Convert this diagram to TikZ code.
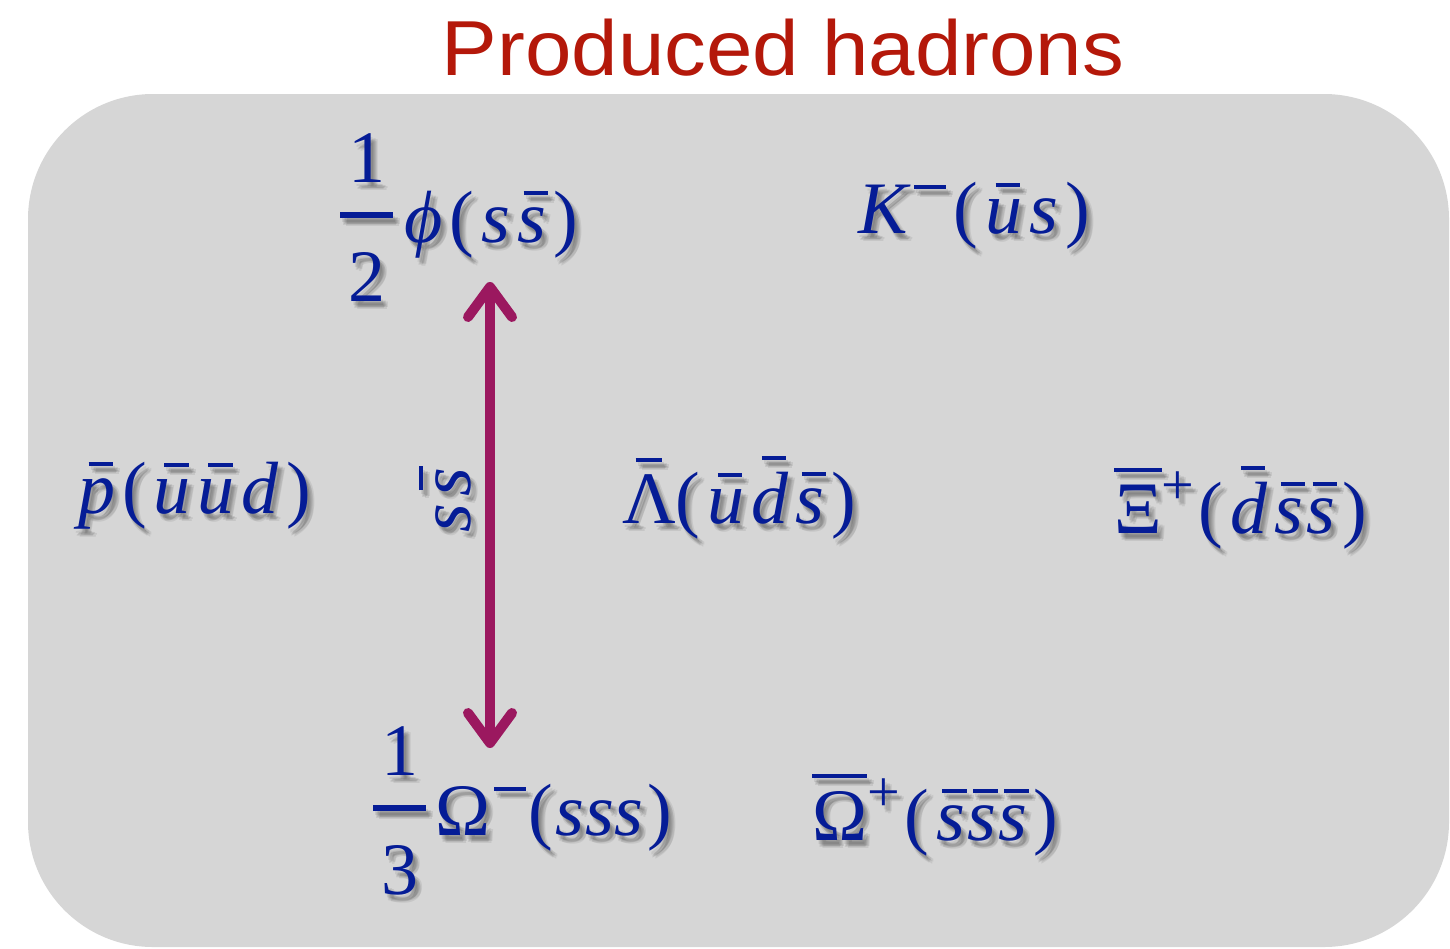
\documentclass[tikz,border=0pt]{standalone}
\usepackage{fontspec}
\setmainfont{Liberation Serif}
\setsansfont{Liberation Sans}
\usetikzlibrary{arrows.meta}
\definecolor{hblue}{RGB}{5,28,150}
\definecolor{hred}{RGB}{180,24,10}
\definecolor{hmag}{RGB}{155,24,95}
\definecolor{hgray}{RGB}{214,214,214}
\newcommand{\ovl}[3][0pt]{\setbox0\hbox{#3}\rlap{\hbox to\wd0{\hss\kern#1\rule[\dimexpr\ht0+0.16em\relax]{#2}{0.055em}\hss}}\box0}
\newcommand{\iq}[2][0.095em]{\textit{#2}\kern#1}
\newcommand{\bq}[2][0.095em]{\ovl[0.11em]{0.33em}{\itshape #2}\kern#1}
\newcommand{\fob}[1]{\setbox0\hbox{#1}\rlap{\rule[\dimexpr\ht0+0.17em\relax]{\wd0}{0.055em}}\box0}
\newcommand{\sps}[1]{\raisebox{0.38em}{\fontsize{58}{60}\selectfont #1}\kern0.06em}
\newcommand{\smin}[1][0.1em]{\kern0.05em\rule[0.6em]{0.43em}{0.055em}\kern#1}
\newcommand{\lp}[1][0.095em]{(\kern#1}
\newcommand{\fr}[2]{\rlap{\raisebox{0.8em}{\makebox[0.72em]{#1}}}\rlap{\rule[0.33em]{0.72em}{0.07em}}\raisebox{-0.81em}{\makebox[0.72em]{#2}}\kern0.15em}
\tikzset{
  txt/.style={inner sep=0pt,text=hblue,anchor=base west,font=\fontsize{74}{80}\selectfont},
  shd/.style={txt,text=black,opacity=.07},
  panel/.style={fill=hgray,draw=none,rounded corners=125pt},
  title/.style={inner sep=0pt,text=hred,anchor=base,font=\sffamily\fontsize{78}{80}\selectfont},
  link/.style={draw=hmag,line width=10pt,line cap=round,
    {Straight Barb[length=30pt,width=44pt,line cap=round,line join=round]}-{Straight Barb[length=30pt,width=44pt,line cap=round,line join=round]}}
}
\newcommand{\hadr}[4][]{%
  \foreach \dx/\dy [count=\i] in {2/4,4/6,6/8,3/7,5/5,7/6}{%
    \node[shd,#1] (#2-s\i) at ([shift={(\dx pt,-\dy pt)}]#3) {#4};}%
  \node[txt,#1] (#2) at (#3) {#4};}
\begin{document}
\begin{tikzpicture}[x=1pt,y=-1pt]
\useasboundingbox (0,0) rectangle (1450,948);
\path[panel] (28,94) rectangle (1449,947);
\node[title] (head) at (783,75) {\scalebox{1.07}[1]{Produced hadrons}};
\hadr{phi}{340,242}{\fr{1}{2}\iq{ϕ}\lp\iq{s}\bq{s})}
\hadr{kaon}{858,233}{\iq[0pt]{K}\smin\lp\bq{u}\iq{s})}
\hadr{pbar}{78,513}{\bq{p}\lp\bq{u}\bq{u}\iq{d})}
\hadr{lam}{622,523}{\ovl{0.36em}{Λ}\lp\bq{u}\bq{d}\bq{s})}
\hadr{xi}{1114,533}{\fob{Ξ}\sps{+}\lp\bq{d}\bq[0.04em]{s}\bq{s})}
\hadr{om}{373,835}{\fr{1}{3}\kern-0.03em Ω\smin[0.04em]\lp[0.03em]\iq[0.01em]{s}\iq[0.01em]{s}\iq[0.05em]{s})}
\hadr{omb}{812,840}{\fob{Ω}\sps{+}\lp\bq[0.03em]{s}\bq[0.03em]{s}\bq{s})}
\hadr[anchor=center,rotate=90]{sslab}{445,500}{\iq{s}\bq[0pt]{s}}
\coordinate (top) at (490,282);
\coordinate (bot) at (490,748);
\path[link] (top) -- (bot);
\end{tikzpicture}
\end{document}
